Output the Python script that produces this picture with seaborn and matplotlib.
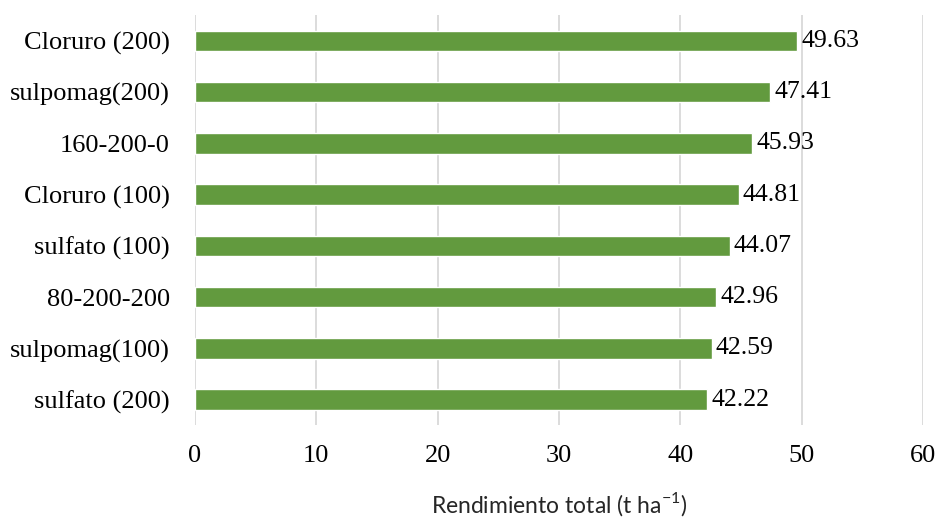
import pandas as pd
import seaborn as sns
import matplotlib.pyplot as plt

# Datos (de arriba a abajo)
tratamientos = ['Cloruro (200)', 'sulpomag(200)', '160-200-0', 'Cloruro (100)',
                'sulfato (100)', '80-200-200', 'sulpomag(100)', 'sulfato (200)']
rendimiento = [49.63, 47.41, 45.93, 44.81, 44.07, 42.96, 42.59, 42.22]

df = pd.DataFrame({'tratamiento': tratamientos, 'rendimiento': rendimiento})

sns.set_style('white')
plt.rcParams['font.family'] = ['Liberation Serif', 'DejaVu Serif']

fig = plt.figure(figsize=(9.4, 5.25), dpi=100)
ax = fig.add_axes([0.2074, 0.19, 0.7745, 0.781])

sns.barplot(data=df, x='rendimiento', y='tratamiento', orient='h',
            color='#629A3E', saturation=1, width=0.4, ax=ax, zorder=3)

# Etiquetas de valores
for cont in ax.containers:
    ax.bar_label(cont, labels=[f'{v:.2f}' for v in rendimiento],
                 padding=3, fontsize=18.5, color='black')

ax.set_xlim(0, 60)
ax.set_xticks(range(0, 61, 10))
ax.grid(axis='x', color='#d9d9d9', linewidth=1.3, zorder=0)
for s in ax.spines.values():
    s.set_visible(False)
ax.tick_params(axis='both', length=0, labelsize=19, colors='black')
ax.tick_params(axis='x', pad=14)
ax.tick_params(axis='y', pad=18)
ax.set_ylabel('')
ax.set_xlabel('Rendimiento total (t ha$^{\\mathregular{-1}}$)', fontsize=16.5,
              family='Lato', labelpad=17)

fig.savefig('out.png', dpi=100)
